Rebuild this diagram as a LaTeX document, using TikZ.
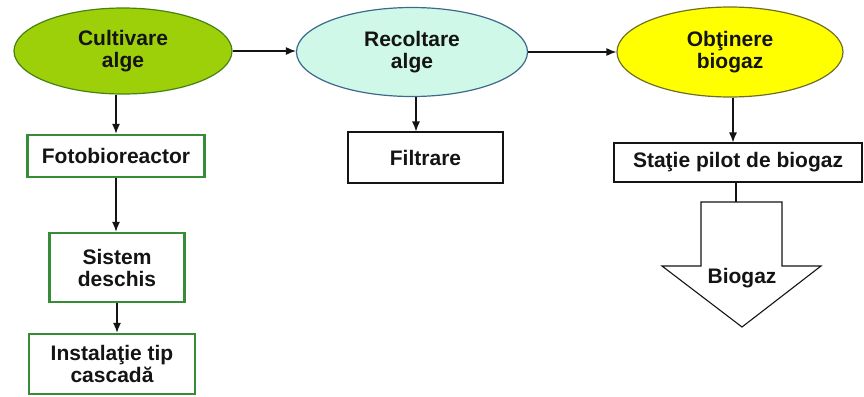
\documentclass[tikz,border=0pt]{standalone}
\usepackage{fontspec}
\setmainfont{Liberation Sans}
\usetikzlibrary{shapes.geometric,arrows.meta,calc}

\definecolor{leafgreen}{RGB}{158,208,10}
\definecolor{leafedge}{RGB}{70,130,20}
\definecolor{mint}{RGB}{208,248,232}
\definecolor{mintedge}{RGB}{60,105,140}
\definecolor{sun}{RGB}{255,255,0}
\definecolor{sunedge}{RGB}{110,110,40}
\definecolor{boxgreen}{RGB}{55,140,55}
\definecolor{ink}{RGB}{20,20,20}

\tikzset{
  txt/.style={font=\fontsize{21bp}{22bp}\selectfont\bfseries, text=ink, align=center},
  stage/.style={ellipse, txt, inner sep=0pt, line width=1.2bp},
  greenbox/.style={rectangle, txt, draw=boxgreen, line width=2.4bp, fill=white, inner sep=0pt},
  plainbox/.style={rectangle, txt, draw=ink, line width=1.1bp, fill=white, inner sep=0pt},
  arr/.style={draw=ink, line width=1.2bp, -{Latex[length=10bp,width=8bp]}},
}

\begin{document}
\begin{tikzpicture}[x=1bp, y=-1bp]
  \useasboundingbox (0,0) rectangle (864,396);

  % main process stages
  \node[stage, fill=leafgreen, draw=leafedge, minimum width=218bp, minimum height=86bp]
    (cult) at (123,51) {Cultivare\\alge};
  \node[stage, fill=mint, draw=mintedge, minimum width=231bp, minimum height=89bp]
    (recol) at (412,52) {Recoltare\\alge};
  \node[stage, fill=sun, draw=sunedge, minimum width=226bp, minimum height=90bp]
    (obt) at (730,52) {Obţinere\\biogaz};

  % cultivation branch
  \node[greenbox, minimum width=177bp, minimum height=42bp] (foto) at (116,156) {Fotobioreactor};
  \node[greenbox, minimum width=135bp, minimum height=69bp] (sist) at (117,267.5) {Sistem\\deschis};
  \node[greenbox, minimum width=166bp, minimum height=60bp] (inst) at (112,364) {Instalaţie tip\\cascadă};

  % harvesting and biogas boxes
  \node[plainbox, minimum width=155bp, minimum height=51bp] (filt) at (425.5,157.5) {Filtrare};
  \node[plainbox, minimum width=248bp, minimum height=39bp] (stat) at (738,162.5) {Staţie pilot de biogaz};

  % connectors between stages
  \draw[arr] (cult.east) -- (cult.east -| recol.west);
  \draw[arr] (recol.east) -- (recol.east -| obt.west);

  \draw[arr] (foto.north |- cult.south) -- (foto.north);
  \draw[arr] (foto.south) -- (foto.south |- sist.north);
  \draw[arr] (sist.south) -- (sist.south |- inst.north);

  \coordinate (rdown) at ($(recol.south)+(4,0)$);
  \coordinate (odown) at ($(obt.south)+(3,0)$);
  \draw[arr] (rdown) -- (rdown |- filt.north);
  \draw[arr] (odown) -- (odown |- stat.north);

  % output block arrow
  \coordinate (btop) at (736,202);
  \draw[ink, line width=1.1bp] (stat.south -| btop) -- (btop);
  \draw[ink, line width=1.1bp, fill=white, line join=miter]
    (701,202) -- (782,202) -- (782,266) -- (821,266) -- (742,327)
    -- (662,266) -- (701,266) -- cycle;
  \node[txt] (bio) at (742,278) {Biogaz};
\end{tikzpicture}
\end{document}
